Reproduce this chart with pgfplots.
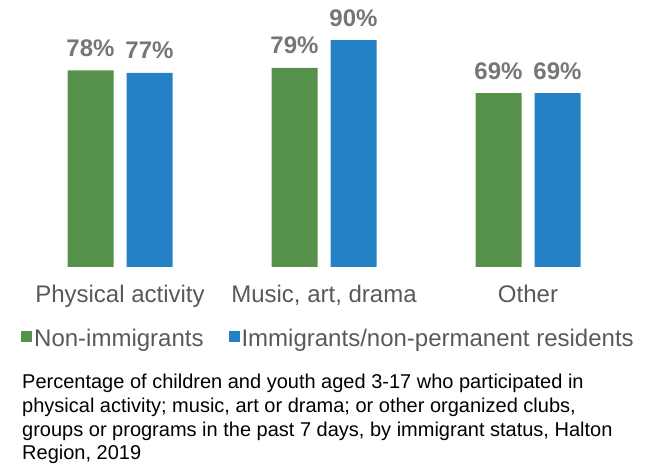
\documentclass[border=0pt]{standalone}
\usepackage{pgfplots}
\pgfplotsset{compat=1.18}
\usepackage{fontspec}
\setmainfont{Liberation Sans}
\definecolor{cgreen}{HTML}{55914B}
\definecolor{cblue}{HTML}{2581C6}
\definecolor{lblgray}{HTML}{767676}
\definecolor{txtgray}{HTML}{595959}
\begin{document}
\begin{tikzpicture}[x=1pt,y=1pt]
\useasboundingbox (0,0) rectangle (660,470);
\begin{axis}[
  at={(18pt,203pt)}, anchor=south west,
  scale only axis, width=612pt, height=252pt,
  xmin=-0.5, xmax=2.5, ymin=0, ymax=100,
  ybar=13pt, bar width=46pt,
  clip=false,
  axis line style={draw=none},
  hide y axis,
  major tick length=0pt,
  xtick={0,1,2},
  xticklabels={Physical activity, {Music, art, drama}, Other},
  xticklabel style={anchor=base, yshift=-36pt, text=txtgray, font=\fontsize{24}{28}\selectfont},
  nodes near coords={\pgfmathprintnumber[assume math mode=true]{\pgfplotspointmeta}\%},
  nodes near coords style={anchor=base, yshift=14pt, text=lblgray, font=\fontsize{24}{28}\selectfont\bfseries},
  legend columns=2,
  legend style={draw=none, fill=none, at={(0pt,-72pt)}, anchor=base west,
    font=\fontsize{24}{28}\selectfont, text=txtgray,
    /tikz/every even column/.append style={column sep=23pt}},
  legend image code/.code={\fill[#1] (0pt,-3pt) rectangle (11pt,8pt);},
]
\addplot[fill=cgreen, draw=none] coordinates {(0,78) (1,79) (2,69)};
\addplot[fill=cblue, draw=none] coordinates {(0,77) (1,90) (2,69)};
\legend{Non-immigrants, Immigrants/non-permanent residents}
\end{axis}
\node[anchor=north west, align=left, inner sep=0pt, font=\fontsize{20}{23.7}\selectfont] at (22,96)
{Percentage of children and youth aged 3-17 who participated in\\
physical activity; music, art or drama; or other organized clubs,\\
groups or programs in the past 7 days, by immigrant status, Halton\\
Region, 2019};
\end{tikzpicture}
\end{document}
